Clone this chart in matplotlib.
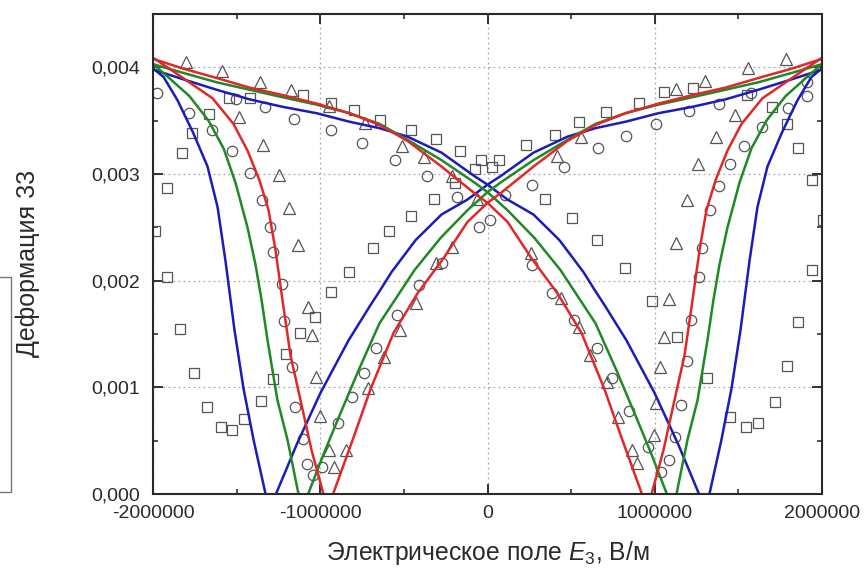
import matplotlib
matplotlib.use('Agg')
import matplotlib.pyplot as plt
import numpy as np
from matplotlib.ticker import AutoMinorLocator, FixedLocator, FuncFormatter
from matplotlib.patches import Rectangle

plt.rcParams['font.family'] = ['Liberation Sans', 'DejaVu Sans']
plt.rcParams['mathtext.fontset'] = 'custom'
plt.rcParams['mathtext.rm'] = 'Liberation Sans'
plt.rcParams['mathtext.it'] = 'Liberation Sans:italic'
plt.rcParams['axes.unicode_minus'] = False

# model curves, one branch each (field sweep -E -> +E); second branch is its mirror
blue_x = [-2.0e6, -1.824e6, -1.620e6, -1.423e6, -1.226e6, -1.022e6, -0.825e6, -0.646e6,
          -0.478e6, -0.275e6, -0.078e6, 0.0, 0.120e6, 0.275e6, 0.430e6, 0.502e6, 0.574e6,
          0.646e6, 0.700e6, 0.831e6, 0.998e6, 1.142e6, 1.262e6, 1.297e6, 1.327e6, 1.399e6,
          1.459e6, 1.513e6, 1.567e6, 1.614e6, 1.674e6, 1.758e6, 1.853e6, 1.937e6, 2.0e6]
blue_y = [0.00398, 0.00389, 0.00379, 0.00370, 0.00363, 0.00357, 0.00349, 0.00343,
          0.00335, 0.00320, 0.00298, 0.00290, 0.00276, 0.00262, 0.00238, 0.00223, 0.00208,
          0.00190, 0.00177, 0.00144, 0.00095, 0.00046, 0.00001, -0.00015, 0.0, 0.00051,
          0.00099, 0.00154, 0.00219, 0.00269, 0.00307, 0.00338, 0.00369, 0.00391, 0.00399]

green_x = [-2.0e6, -1.824e6, -1.620e6, -1.423e6, -1.226e6, -1.022e6, -0.825e6, -0.646e6,
           -0.478e6, -0.275e6, -0.078e6, 0.0, 0.120e6, 0.281e6, 0.436e6, 0.646e6, 0.771e6,
           0.897e6, 0.981e6, 1.070e6, 1.094e6, 1.130e6, 1.196e6, 1.256e6, 1.315e6, 1.351e6,
           1.387e6, 1.435e6, 1.507e6, 1.578e6, 1.668e6, 1.782e6, 1.925e6, 2.0e6]
green_y = [0.00403, 0.00395, 0.00386, 0.00379, 0.00372, 0.00365, 0.00357, 0.00347,
           0.00332, 0.00313, 0.00292, 0.00283, 0.00266, 0.00240, 0.00210, 0.00160, 0.00116,
           0.00069, 0.00037, 0.00001, -0.00010, 0.0, 0.00051, 0.00088, 0.00144, 0.00182,
           0.00215, 0.00250, 0.00292, 0.00324, 0.00350, 0.00373, 0.00393, 0.00403]

red_x = [-2.0e6, -1.824e6, -1.620e6, -1.423e6, -1.226e6, -1.022e6, -0.825e6, -0.646e6,
         -0.478e6, -0.275e6, -0.078e6, 0.0, 0.120e6, 0.263e6, 0.419e6, 0.562e6, 0.700e6,
         0.801e6, 0.921e6, 0.945e6, 0.981e6, 1.052e6, 1.118e6, 1.178e6, 1.226e6, 1.268e6,
         1.309e6, 1.363e6, 1.435e6, 1.519e6, 1.644e6, 1.830e6, 2.0e6]
red_y = [0.00408, 0.00399, 0.00390, 0.00381, 0.00374, 0.00366, 0.00357, 0.00346,
         0.00331, 0.00307, 0.00282, 0.00273, 0.00255, 0.00221, 0.00188, 0.00151, 0.00098,
         0.00053, 0.00001, -0.00010, 0.0, 0.00041, 0.00088, 0.00130, 0.00182, 0.00229,
         0.00266, 0.00294, 0.00322, 0.00347, 0.00371, 0.00391, 0.00409]

# experimental points
sq_x = [-1.991e6, -1.919e6, -1.824e6, -1.764e6, -1.668e6, -1.543e6, -1.423e6, -1.106e6,
        -0.933e6, -0.801e6, -0.640e6, -0.460e6, -0.305e6, -0.167e6, -0.036e6, 0.066e6,
        -0.072e6, 0.024e6, -0.197e6, -0.317e6, -0.460e6, -0.586e6, -0.682e6, -0.831e6,
        -0.933e6, -1.034e6, -1.124e6, -1.202e6, -1.285e6, -1.357e6, -1.453e6, -1.525e6,
        -1.596e6, -1.680e6, -1.752e6, -1.836e6, -1.919e6,
        0.233e6, 0.401e6, 0.550e6, 0.711e6, 0.903e6, 1.058e6, 1.226e6, 1.549e6, 1.704e6,
        1.788e6, 1.859e6, 1.943e6, 2.003e6, 1.943e6, 1.859e6, 1.788e6, 1.716e6, 1.620e6,
        1.543e6, 1.447e6, 1.315e6, 1.136e6, 0.981e6, 0.825e6, 0.652e6, 0.508e6, 0.341e6]
sq_y = [0.00247, 0.00287, 0.00320, 0.00338, 0.00356, 0.00371, 0.00371, 0.00374,
        0.00367, 0.00360, 0.00351, 0.00341, 0.00333, 0.00322, 0.00313, 0.00313,
        0.00305, 0.00307, 0.00292, 0.00277, 0.00261, 0.00247, 0.00231, 0.00208,
        0.00189, 0.00166, 0.00151, 0.00131, 0.00108, 0.00087, 0.00070, 0.00060,
        0.00063, 0.00082, 0.00113, 0.00155, 0.00203,
        0.00327, 0.00337, 0.00349, 0.00358, 0.00367, 0.00377, 0.00381, 0.00374, 0.00363,
        0.00347, 0.00324, 0.00294, 0.00257, 0.00210, 0.00161, 0.00120, 0.00086, 0.00067,
        0.00063, 0.00072, 0.00109, 0.00147, 0.00181, 0.00212, 0.00238, 0.00259, 0.00277]

circ_x = [-1.979e6, -1.501e6, -1.333e6, -1.154e6, -0.933e6, -0.753e6, -0.556e6, -0.359e6,
          -0.185e6, -0.048e6, 0.012e6, 0.102e6, 0.269e6, 0.460e6, 0.658e6, 0.831e6,
          1.010e6, 1.202e6, 1.387e6, 1.578e6, 1.913e6, 1.913e6, 1.794e6, 1.644e6, 1.531e6,
          1.447e6, 1.387e6, 1.333e6, 1.280e6, 1.262e6, 1.214e6, 1.190e6, 1.154e6, 1.124e6,
          1.088e6, 1.040e6, 0.957e6, 0.849e6, 0.747e6, 0.652e6, 0.520e6, 0.383e6, 0.269e6,
          -1.782e6, -1.650e6, -1.525e6, -1.423e6, -1.351e6, -1.303e6, -1.280e6, -1.226e6,
          -1.214e6, -1.166e6, -1.148e6, -1.106e6, -1.082e6, -1.046e6, -0.987e6, -0.891e6,
          -0.813e6, -0.741e6, -0.664e6, -0.544e6, -0.407e6, -0.275e6]
circ_y = [0.00376, 0.00370, 0.00363, 0.00352, 0.00341, 0.00329, 0.00313, 0.00298,
          0.00278, 0.00250, 0.00257, 0.00280, 0.00290, 0.00307, 0.00324, 0.00336,
          0.00347, 0.00359, 0.00366, 0.00376, 0.00386, 0.00373, 0.00362, 0.00344, 0.00326,
          0.00309, 0.00289, 0.00266, 0.00231, 0.00203, 0.00163, 0.00125, 0.00083, 0.00053,
          0.00032, 0.00021, 0.00044, 0.00078, 0.00109, 0.00137, 0.00163, 0.00188, 0.00215,
          0.00357, 0.00341, 0.00322, 0.00301, 0.00276, 0.00250, 0.00227, 0.00197,
          0.00162, 0.00119, 0.00082, 0.00052, 0.00028, 0.00018, 0.00025, 0.00067,
          0.00091, 0.00113, 0.00137, 0.00168, 0.00196, 0.00217]

tri_x = [-1.800e6, -1.590e6, -1.363e6, -1.172e6, -0.945e6, -0.735e6, -0.514e6, -0.377e6,
         -0.215e6, -0.060e6, 0.263e6, 0.442e6, 0.550e6, 0.610e6, 0.717e6, 0.783e6, 0.861e6,
         0.891e6, 0.998e6, 1.010e6, 1.034e6, 1.058e6, 1.088e6, 1.130e6, 1.190e6, 1.256e6,
         1.369e6, 1.477e6, 1.782e6, 1.555e6, 1.303e6, 1.130e6, 0.562e6, 0.413e6,
         -1.483e6, -1.345e6, -1.244e6, -1.184e6, -1.136e6, -1.076e6, -1.052e6, -1.028e6,
         -1.004e6, -0.945e6, -0.915e6, -0.849e6, -0.717e6, -0.616e6, -0.526e6, -0.425e6,
         -0.305e6, -0.215e6]
tri_y = [0.00405, 0.00397, 0.00386, 0.00379, 0.00364, 0.00348, 0.00326, 0.00316,
         0.00298, 0.00277, 0.00226, 0.00184, 0.00157, 0.00130, 0.00105, 0.00072, 0.00041,
         0.00029, 0.00055, 0.00085, 0.00119, 0.00147, 0.00183, 0.00235, 0.00276, 0.00309,
         0.00335, 0.00355, 0.00408, 0.00399, 0.00387, 0.00380, 0.00335, 0.00317,
         0.00353, 0.00327, 0.00299, 0.00268, 0.00233, 0.00175, 0.00149, 0.00110,
         0.00073, 0.00041, 0.00025, 0.00041, 0.00099, 0.00128, 0.00154, 0.00179,
         0.00217, 0.00232]

x_ticks = [-2000000, -1000000, 0, 1000000, 2000000]
y_ticks = [0.0, 0.001, 0.002, 0.003, 0.004]

fig = plt.figure(figsize=(8.67, 5.74), dpi=100)
ax = fig.add_axes([153 / 867, 80 / 574, 669 / 867, 480 / 574])

mk = dict(linestyle='none', mfc='none', mec='#555555', mew=0.9)
ax.plot(sq_x, sq_y, marker='s', ms=7, **mk)
ax.plot(circ_x, circ_y, marker='o', ms=7.5, **mk)
ax.plot(tri_x, tri_y, marker='^', ms=8.5, **mk)

for cx, cy, col in [(blue_x, blue_y, '#1c1cb8'), (green_x, green_y, '#1f8a25'),
                    (red_x, red_y, '#e0282a')]:
    cx = np.array(cx)
    cy = np.array(cy)
    ax.plot(cx, cy, color=col, lw=1.8, solid_joinstyle='round')
    ax.plot(-cx[::-1], cy[::-1], color=col, lw=1.8, solid_joinstyle='round')

ax.set_xlim(-2000000, 2000000)
ax.set_ylim(0, 0.0045)
ax.xaxis.set_major_locator(FixedLocator(x_ticks))
ax.yaxis.set_major_locator(FixedLocator(y_ticks))
ax.xaxis.set_minor_locator(AutoMinorLocator(2))
ax.yaxis.set_minor_locator(AutoMinorLocator(2))
ax.xaxis.set_major_formatter(FuncFormatter(lambda v, p: '%d' % round(v)))
ax.yaxis.set_major_formatter(FuncFormatter(lambda v, p: ('%.3f' % v).replace('.', ',')))

ax.tick_params(which='both', direction='in', top=True, right=True, colors='#222222',
               labelcolor='#2a2a2a', labelsize=14)
ax.tick_params(which='major', length=7, width=1.3)
ax.tick_params(which='minor', length=3.5, width=1.1)
ax.tick_params(axis='y', pad=9)
ax.tick_params(axis='x', pad=8)
for s in ax.spines.values():
    s.set_linewidth(1.5)
    s.set_color('#2a2a2a')

ax.grid(True, which='major', linestyle=(0, (1.5, 2.5)), color='#a8a8a8', linewidth=0.9)

ax.set_xlabel('Электрическое поле $E_3$, В/м', fontsize=17.8, color='#2a2a2a', va='center')
ax.xaxis.set_label_coords(0.5, -0.123)
ax.set_ylabel('Деформация 33', fontsize=18, color='#2a2a2a', va='center')
ax.yaxis.set_label_coords(-0.187, 0.48)

# cut-off legend frame at the left edge
fig.add_artist(Rectangle((-20 / 867, (574 - 492) / 574), 31 / 867, 215 / 574,
                         transform=fig.transFigure, fill=False, ec='#777777', lw=1))

fig.savefig('out.png', dpi=100)
